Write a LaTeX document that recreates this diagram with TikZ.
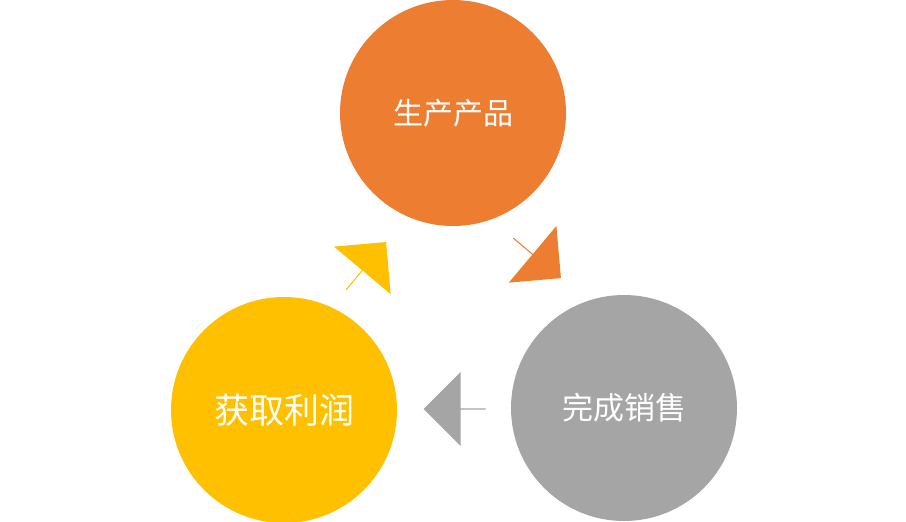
\documentclass[tikz,border=0pt]{standalone}
\usepackage{fontspec}
\newfontfamily\cjk{Noto Sans CJK SC}
\usetikzlibrary{shapes.arrows}
\definecolor{cor}{HTML}{ED7D31}
\definecolor{cgr}{HTML}{A5A5A5}
\definecolor{cye}{HTML}{FFC000}
\begin{document}
\begin{tikzpicture}[x=1pt,y=-1pt,
  circ/.style={circle,minimum size=226pt,inner sep=0pt,text=white,font=\cjk\fontsize{30}{30}\selectfont},
  arr/.style={single arrow,minimum height=62pt,minimum width=74pt,single arrow head extend=14pt,single arrow head indent=0pt,inner sep=0pt,draw=none}]
\useasboundingbox (0,0) rectangle (906,522);
\node[circ,fill=cor] (p) at (453,113) {生产产品};
\node[circ,fill=cgr,font=\cjk\fontsize{31}{31}\selectfont] (s) at (624,408) {完成销售};
\node[circ,fill=cye,font=\cjk\fontsize{35}{35}\selectfont] (g) at (284,410) {获取利润};
\node[arr,fill=cor,rotate=-40] (a1) at (537,258) {};
\node[arr,fill=cgr,rotate=180] (a2) at (455,409) {};
\node[arr,fill=cye,rotate=50] (a3) at (366,266) {};
\end{tikzpicture}
\end{document}
